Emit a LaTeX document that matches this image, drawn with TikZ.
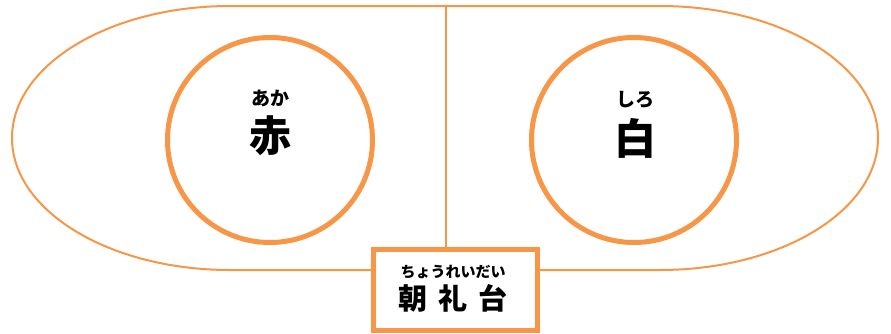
\documentclass[tikz,border=0pt]{standalone}
\usepackage{fontspec}
\newfontfamily\jpfont{Noto Sans CJK JP}
\usetikzlibrary{positioning}
\definecolor{fieldorange}{RGB}{247,150,70}
\tikzset{
    team/.style={
           circle,
           draw=fieldorange, line width=5pt,
           minimum size=205pt,
           inner sep=0pt,
           },
    kanji/.style={
           font=\jpfont\bfseries\fontsize{42}{42}\selectfont,
           inner sep=0pt,
           },
    ruby/.style={
           font=\jpfont\bfseries\fontsize{19}{19}\selectfont,
           inner sep=0pt,
           },
}

\begin{document}
\begin{tikzpicture}[x=1pt,y=-1pt]
 \useasboundingbox (0,0) rectangle (891,333);

 % the track round the field
 \draw[fieldorange, line width=2pt]
  (230,6) -- (660,6)
  arc[start angle=90, end angle=-90, x radius=218pt, y radius=132pt]
  -- (230,270)
  arc[start angle=270, end angle=90, x radius=218pt, y radius=132pt]
  -- cycle;
 \coordinate (midtop) at (446,6);

 % the two teams
 \node[team] (red) at (270,140) {};
 \node[team] (white) at (634,140) {};

 \node[kanji] (aka) at (270,136) {赤};
 \node[ruby, above=9pt of aka] (akaruby) {あか};

 \node[kanji] (shiro) at (635,138) {白};
 \node[ruby, above=9pt of shiro] (shiroruby) {しろ};

 % morning assembly stand, white fill hides the track
 \node[draw=fieldorange, line width=5pt, fill=white,
  minimum width=164pt, minimum height=81pt,
  inner sep=0pt] (platform) at (455,289.5) {};
 \node[ruby, font=\jpfont\bfseries\fontsize{15}{15}\selectfont] (chorei) at (453,272) {ちょうれいだい};
 \node[kanji, font=\jpfont\bfseries\fontsize{29}{29}\selectfont] (choreidai) at (453,298) {朝\hspace{11pt}礼\hspace{11pt}台};

 % centre line
 \draw[fieldorange, line width=2pt] (midtop) -- (midtop |- platform.north);

\end{tikzpicture}
\end{document}
